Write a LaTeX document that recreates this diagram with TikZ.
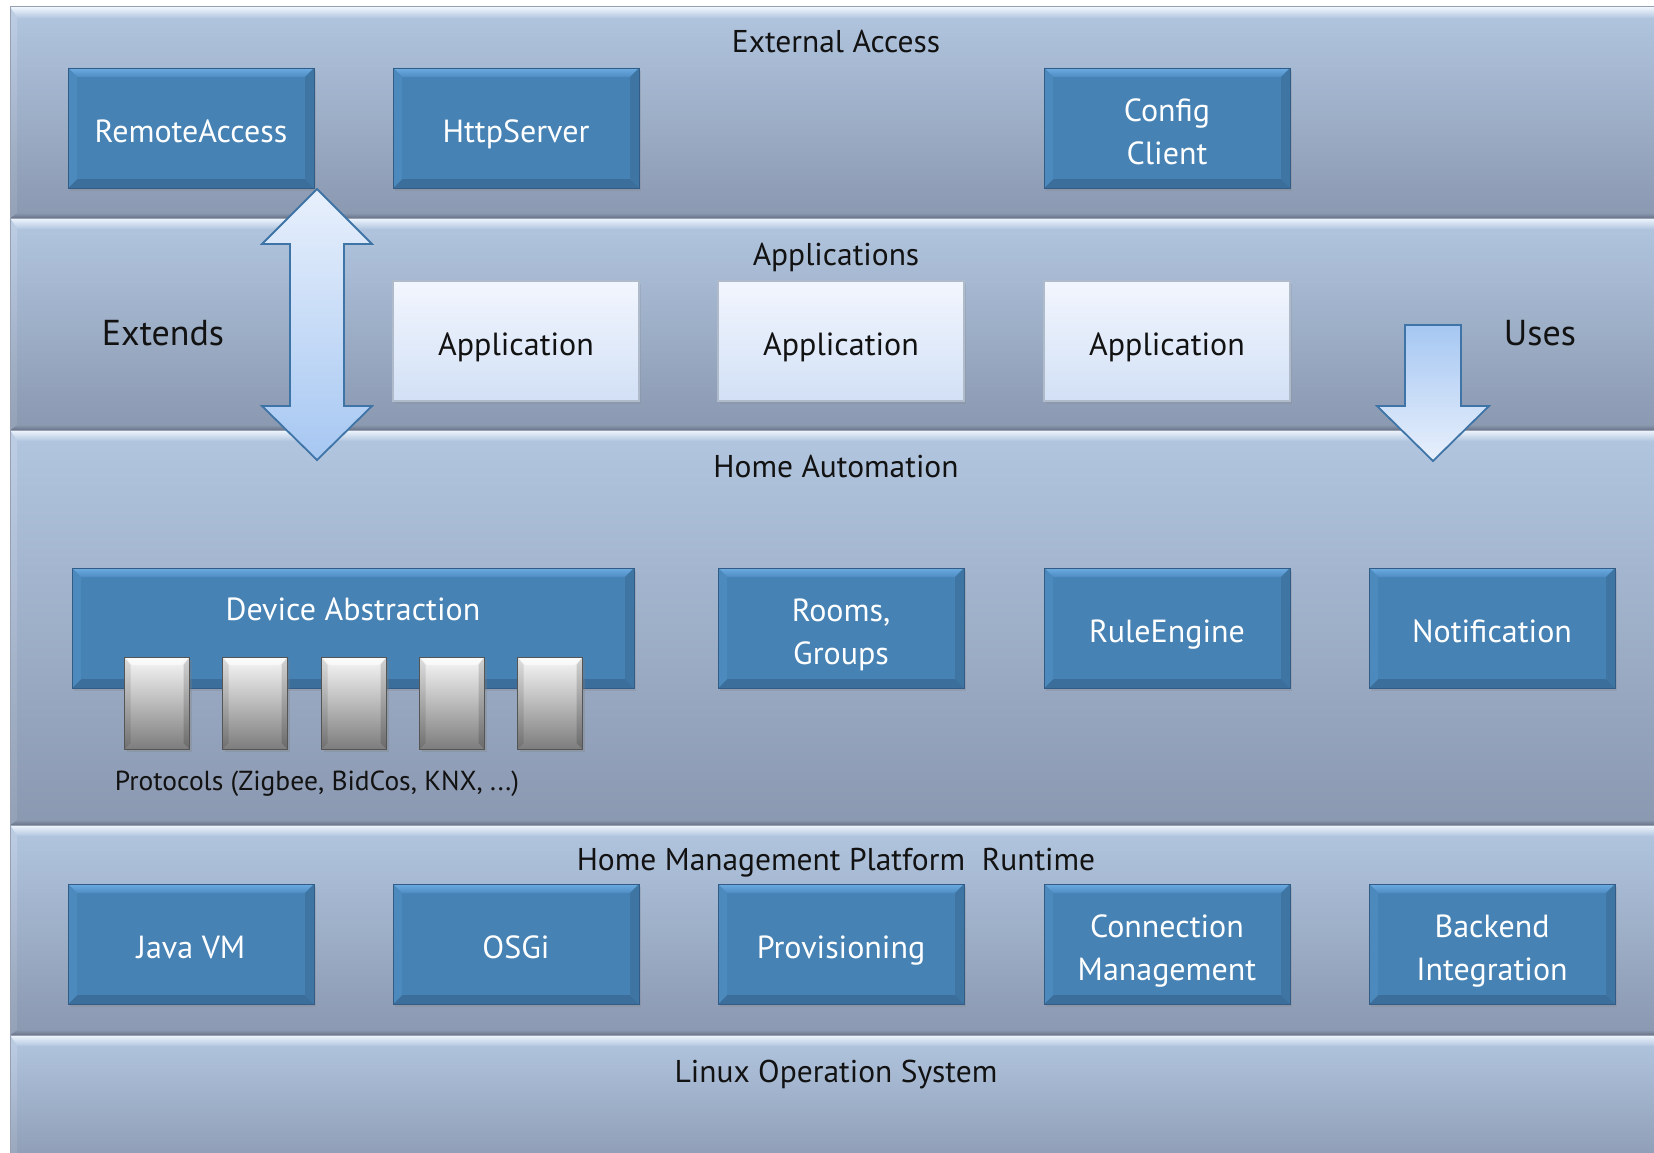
\documentclass[tikz,border=0pt]{standalone}
\usepackage{fontspec}
\setmainfont{PT Sans}
\usetikzlibrary{shadows}
\definecolor{boxblue}{RGB}{70,130,180}
\definecolor{boxtopA}{RGB}{108,172,226}
\definecolor{boxtopB}{RGB}{78,140,194}
\definecolor{boxbot}{RGB}{60,110,155}
\definecolor{boxright}{RGB}{63,117,163}
\definecolor{boxleft}{RGB}{76,138,190}
\definecolor{boxedge}{RGB}{50,92,134}
\definecolor{bandtop}{RGB}{178,198,224}
\definecolor{bandbot}{RGB}{138,152,176}
\definecolor{bandhi}{RGB}{240,246,253}
\definecolor{bandlo}{RGB}{105,116,136}
\definecolor{bandedge}{RGB}{150,160,178}
\definecolor{apptop}{RGB}{242,246,254}
\definecolor{appbot}{RGB}{210,224,245}
\definecolor{appedge}{RGB}{175,186,202}
\definecolor{arrlight}{RGB}{232,240,252}
\definecolor{arrdark}{RGB}{166,199,242}
\definecolor{arredge}{RGB}{62,116,166}
\definecolor{blocktop}{RGB}{248,248,248}
\definecolor{blockmid}{RGB}{205,205,205}
\definecolor{blockbot}{RGB}{125,125,125}
\definecolor{blockedge}{RGB}{85,85,85}
\definecolor{txt}{RGB}{18,18,18}
\begin{document}
\begin{tikzpicture}[x=1pt,y=-1pt,
  every node/.style={inner sep=0pt, outer sep=0pt},
  band/.style={shape=rectangle, anchor=north west, minimum width=1680,
    draw=bandedge, line width=1pt, top color=bandtop, bottom color=bandbot,
    path picture={
      \coordinate (NW) at (path picture bounding box.north west);
      \coordinate (NE) at (path picture bounding box.north east);
      \coordinate (SW) at (path picture bounding box.south west);
      \coordinate (SE) at (path picture bounding box.south east);
      \shade[top color=bandhi, bottom color=bandtop]
        (NW) -- (NE) -- ([yshift=-11pt]NE) -- ([xshift=7pt,yshift=-11pt]NW) -- cycle;
      \shade[top color=bandbot, bottom color=bandlo]
        (SW) -- (SE) -- ([yshift=5pt]SE) -- ([xshift=7pt,yshift=5pt]SW) -- cycle;
      \shade[top color=bandtop!85!white, bottom color=bandbot!92!white]
        (NW) -- ([xshift=7pt,yshift=-11pt]NW) -- ([xshift=7pt,yshift=5pt]SW) -- (SW) -- cycle;
    }},
  bluebox/.style={shape=rectangle, minimum width=246, minimum height=120,
    fill=boxblue, draw=boxedge, line width=0.8pt, text=white, align=center,
    font=\fontsize{32}{43}\selectfont, text height=29.5pt, text depth=0pt,
    drop shadow={opacity=0.25, shadow xshift=2pt, shadow yshift=-3pt},
    path picture={
      \coordinate (NW) at (path picture bounding box.north west);
      \coordinate (NE) at (path picture bounding box.north east);
      \coordinate (SW) at (path picture bounding box.south west);
      \coordinate (SE) at (path picture bounding box.south east);
      \shade[top color=boxtopA, bottom color=boxtopB]
        (NW) -- (NE) -- ([xshift=-9pt,yshift=-9pt]NE) -- ([xshift=9pt,yshift=-9pt]NW) -- cycle;
      \fill[boxbot]
        (SW) -- (SE) -- ([xshift=-9pt,yshift=9pt]SE) -- ([xshift=9pt,yshift=9pt]SW) -- cycle;
      \fill[boxright]
        (NE) -- (SE) -- ([xshift=-9pt,yshift=9pt]SE) -- ([xshift=-9pt,yshift=-9pt]NE) -- cycle;
      \fill[boxleft]
        (NW) -- (SW) -- ([xshift=9pt,yshift=9pt]SW) -- ([xshift=9pt,yshift=-9pt]NW) -- cycle;
    }},
  twoline/.style={text height=72.5pt},
  appbox/.style={shape=rectangle, minimum width=246, minimum height=120,
    top color=apptop, bottom color=appbot, draw=appedge, line width=1.2pt,
    text=txt, font=\fontsize{32}{43}\selectfont, text height=29.5pt, text depth=0pt,
    drop shadow={opacity=0.2, shadow xshift=2pt, shadow yshift=-3pt}},
  protoblock/.style={shape=rectangle, minimum width=65, minimum height=92,
    top color=blocktop, middle color=blockmid, bottom color=blockbot,
    draw=blockedge, line width=0.8pt,
    drop shadow={opacity=0.3, shadow xshift=2pt, shadow yshift=-3pt},
    path picture={
      \coordinate (NW) at (path picture bounding box.north west);
      \coordinate (NE) at (path picture bounding box.north east);
      \coordinate (SW) at (path picture bounding box.south west);
      \coordinate (SE) at (path picture bounding box.south east);
      \fill[white, opacity=0.6]
        (NW) -- (NE) -- ([xshift=-8pt,yshift=-8pt]NE) -- ([xshift=8pt,yshift=-8pt]NW) -- cycle;
      \fill[black, opacity=0.15]
        (NE) -- (SE) -- ([xshift=-6pt,yshift=6pt]SE) -- ([xshift=-6pt,yshift=-8pt]NE) -- cycle;
      \fill[black, opacity=0.1]
        (NW) -- (SW) -- ([xshift=6pt,yshift=6pt]SW) -- ([xshift=6pt,yshift=-8pt]NW) -- cycle;
    }},
  bandlabel/.style={text=txt, font=\fontsize{31.5}{36}\selectfont, text height=22pt, text depth=0pt},
  biglabel/.style={text=txt, font=\fontsize{36}{42}\selectfont},
  smalllabel/.style={text=txt, font=\fontsize{27.5}{30}\selectfont, text height=19pt, text depth=0pt},
  blockarrow/.style={draw=arredge, line width=1.8pt, line join=miter}
]
\useasboundingbox (0,0) rectangle (1654,1153);
\fill[white] (0,0) rectangle (1654,1153);

% bands
\node[band, minimum height=211] (bandext) at (10,7) {};
\node[band, minimum height=212] (bandapp) at (10,218) {};
\node[band, minimum height=395] (bandha) at (10,430) {};
\node[band, minimum height=210] (bandhmp) at (10,825) {};
\node[band, minimum height=140] (bandlinux) at (10,1035) {};

% band labels
\node[bandlabel] (lext) at (836,42) {External Access};
\node[bandlabel] (lapp) at (836,254) {Applications};
\node[bandlabel] (lha) at (836,466) {Home Automation};
\node[bandlabel] (lhmp) at (836,859) {Home Management Platform\ \ Runtime};
\node[bandlabel] (llinux) at (836,1071) {Linux Operation System};
\node[biglabel] (lextends) at (163,333) {Extends};
\node[biglabel] (luses) at (1540,333) {Uses};

% external access
\node[bluebox] (remote) at (191,128) {RemoteAccess};
\node[bluebox] (http) at (516,128) {HttpServer};
\node[bluebox, twoline] (config) at (1167,128) {Config\\Client};

% applications
\node[appbox] (app1) at (516,341) {Application};
\node[appbox] (app2) at (841,341) {Application};
\node[appbox] (app3) at (1167,341) {Application};

% home automation
\node[bluebox, minimum width=562] (devabs) at (353,628) {};
\node[text=white, font=\fontsize{32}{36}\selectfont] (devabslabel) at (353,609) {Device Abstraction};
\node[bluebox, twoline] (rooms) at (841,628) {Rooms,\\Groups};
\node[bluebox] (rule) at (1167,628) {RuleEngine};
\node[bluebox] (notif) at (1492,628) {Notification};
\node[protoblock] (p1) at (157,703) {};
\node[protoblock] (p2) at (255,703) {};
\node[protoblock] (p3) at (354,703) {};
\node[protoblock] (p4) at (452,703) {};
\node[protoblock] (p5) at (550,703) {};
\node[smalllabel] (protolabel) at (317,781) {Protocols (Zigbee, BidCos, KNX, ...)};

% runtime
\node[bluebox] (java) at (191,944) {Java VM};
\node[bluebox] (osgi) at (516,944) {OSGi};
\node[bluebox] (prov) at (841,944) {Provisioning};
\node[bluebox, twoline] (conn) at (1167,944) {Connection\\Management};
\node[bluebox, twoline] (backend) at (1492,944) {Backend\\Integration};

% extends double arrow
\path[blockarrow, top color=arrlight, bottom color=arrdark]
  (317,189) -- (372,244) -- (344,244) -- (344,406) -- (372,406) -- (317,460)
  -- (262,406) -- (290,406) -- (290,244) -- (262,244) -- cycle;
% uses down arrow
\path[blockarrow, top color=arrdark, bottom color=arrlight]
  (1405,325) -- (1461,325) -- (1461,406) -- (1489,406) -- (1433,461)
  -- (1377,406) -- (1405,406) -- cycle;
\end{tikzpicture}
\end{document}
